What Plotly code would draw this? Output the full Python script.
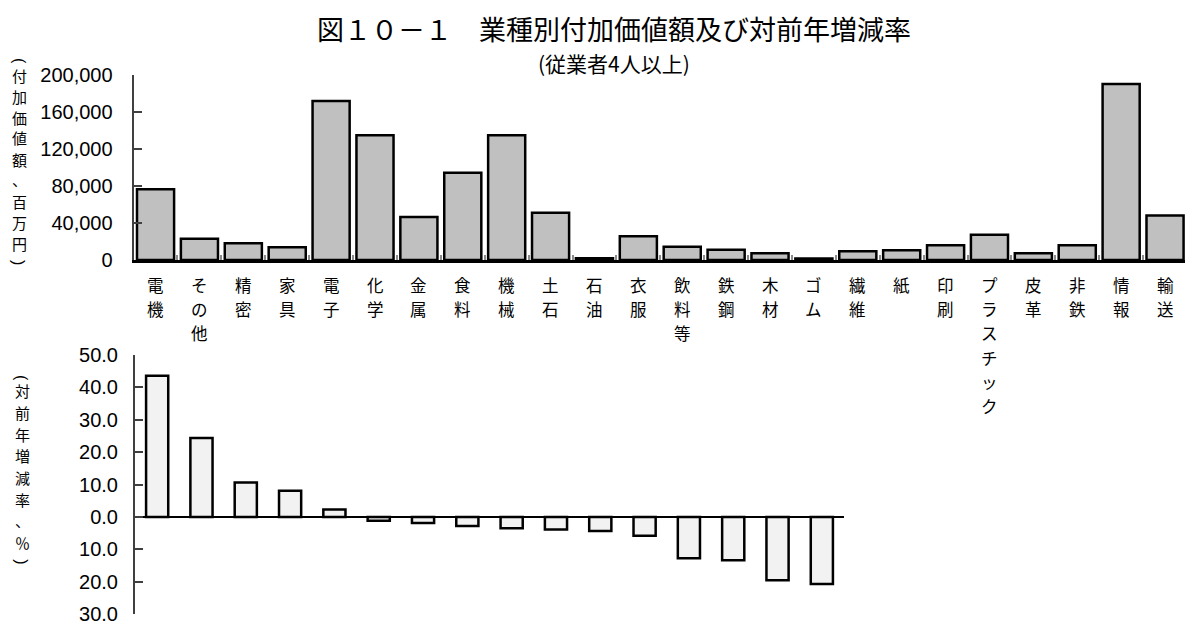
import plotly.graph_objects as go

# ---- data ----
industries = ["電機", "その他", "精密", "家具", "電子", "化学", "金属", "食料", "機械", "土石",
              "石油", "衣服", "飲料等", "鉄鋼", "木材", "ゴム", "繊維", "紙", "印刷", "プラスチック",
              "皮革", "非鉄", "情報", "輸送"]
value_added = [76500, 23000, 18000, 13700, 171800, 135000, 46600, 94200, 135000, 51200,
               2000, 25600, 14400, 11200, 7200, 1500, 9400, 10500, 15900, 27400,
               7200, 15900, 190200, 48000]
va_ticks = [0, 40000, 80000, 120000, 160000, 200000]

change_rank = ["1", "2", "3", "4", "5", "6", "7", "8", "9", "10", "11", "12", "13", "14", "15", "16"]
change_pct = [43.6, 24.4, 10.6, 8.1, 2.3, -1.2, -1.9, -2.8, -3.5, -3.9, -4.4, -5.8, -12.8, -13.4, -19.6, -20.7]
pct_ticks = [-30, -20, -10, 0, 10, 20, 30, 40, 50]
pct_tick_labels = ["30.0", "20.0", "10.0", "0.0", "10.0", "20.0", "30.0", "40.0", "50.0"]

title_text = "図１０－１　業種別付加価値額及び対前年増減率"
subtitle_text = "(従業者4人以上)"
ytitle_top = "付加価値額、百万円"
ytitle_bottom = "対前年増減率、％"

# ---- figure ----
W, H = 1185, 626
CJK = "Noto Sans CJK JP"
NUM = "Liberation Sans, Arial"


def px_x(v):
    return v / W


def px_y(v):
    return 1 - v / H


fig = go.Figure()
fig.add_trace(go.Bar(x=industries, y=value_added, xaxis="x", yaxis="y",
                     marker=dict(color="#c0c0c0", line=dict(color="black", width=2.5)),
                     showlegend=False, hoverinfo="skip"))
fig.add_trace(go.Bar(x=change_rank, y=change_pct, xaxis="x2", yaxis="y2", width=0.5,
                     marker=dict(color="#f2f2f2", line=dict(color="black", width=2.5)),
                     showlegend=False, hoverinfo="skip"))

fig.update_layout(
    width=W, height=H,
    margin=dict(l=0, r=0, t=0, b=0, autoexpand=False),
    paper_bgcolor="white", plot_bgcolor="white",
    bargap=0.155,
    xaxis=dict(domain=[px_x(133.6), 1.0], anchor="y", type="category",
               range=[-0.5, len(industries) - 0.545],
               showticklabels=False, automargin=False,
               tickson="boundaries", ticks="inside", ticklen=5, tickwidth=2, tickcolor="#8c8c8c",
               showline=True, linecolor="black", linewidth=3,
               showgrid=False, zeroline=False, fixedrange=True),
    yaxis=dict(domain=[px_y(260), px_y(75)], anchor="x", range=[0, 200000],
               tickvals=va_ticks, tickformat=",", automargin=False,
               tickfont=dict(family=NUM, size=20, color="black"),
               ticks="inside", ticklen=8, tickwidth=2, tickcolor="#404040",
               showline=True, linecolor="#404040", linewidth=2, ticklabeloverflow="allow",
               showgrid=False, zeroline=False, ticklabelstandoff=15, fixedrange=True),
    xaxis2=dict(domain=[px_x(135), px_x(844)], anchor="y2", type="category",
                range=[-0.5, len(change_rank) - 0.5], automargin=False,
                showticklabels=False, ticks="", showline=False, showgrid=False,
                zeroline=False, fixedrange=True),
    yaxis2=dict(domain=[px_y(614), px_y(355)], anchor="x2", range=[-30, 50],
                tickvals=pct_ticks, ticktext=pct_tick_labels, automargin=False,
                tickfont=dict(family=NUM, size=20, color="black"),
                ticks="inside", ticklen=8, tickwidth=2, tickcolor="#404040",
                showline=True, linecolor="#404040", linewidth=2, ticklabeloverflow="allow",
                showgrid=False, zeroline=True, zerolinecolor="black", zerolinewidth=2,
                ticklabelstandoff=11, fixedrange=True),
)

# title / subtitle
fig.add_annotation(text=title_text, x=px_x(614), y=px_y(28), xref="paper", yref="paper",
                   showarrow=False, xanchor="center", yanchor="middle",
                   font=dict(family=CJK, size=27, color="black"))
fig.add_annotation(text=subtitle_text, x=px_x(614), y=px_y(63), xref="paper", yref="paper",
                   showarrow=False, xanchor="center", yanchor="middle",
                   font=dict(family=CJK, size=21, color="black"))

# category labels, written vertically one character per row
ROW0, ROWSTEP = 285, 24.2
for name in industries:
    for i, ch in enumerate(name):
        fig.add_annotation(text=ch, x=name, xref="x", y=px_y(ROW0 + i * ROWSTEP), yref="paper",
                           showarrow=False, xanchor="center", yanchor="middle",
                           font=dict(family=CJK, size=16.5, color="black"))


# vertical axis titles (rotated parentheses + stacked characters)
def vertical_title(text, xc, y_open, y_first, step):
    fig.add_annotation(text="(", textangle=90, x=px_x(xc), y=px_y(y_open), xref="paper", yref="paper",
                       showarrow=False, xanchor="center", yanchor="middle",
                       font=dict(family=NUM, size=16, color="black"))
    y = y_first
    for ch in text:
        fig.add_annotation(text=ch, x=px_x(xc), y=px_y(y), xref="paper", yref="paper",
                           showarrow=False, xanchor="center", yanchor="middle",
                           font=dict(family=CJK, size=15, color="black"))
        y += step
    fig.add_annotation(text=")", textangle=90, x=px_x(xc), y=px_y(y - step + 19), xref="paper", yref="paper",
                       showarrow=False, xanchor="center", yanchor="middle",
                       font=dict(family=NUM, size=16, color="black"))


vertical_title(ytitle_top, 19, 61, 75, 21.0)
vertical_title(ytitle_bottom, 22, 378, 391, 21.6)

fig.write_html("out.html", config={"displayModeBar": False},
               post_script="document.body.style.margin='0px';")
